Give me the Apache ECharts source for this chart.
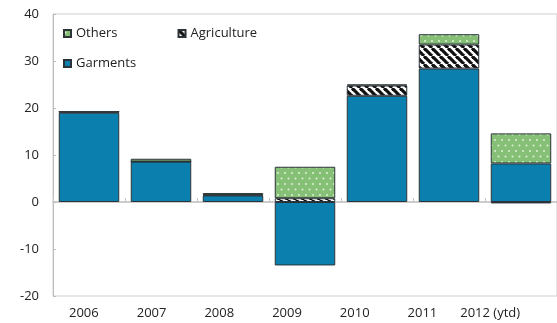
<!DOCTYPE html>
<html>
<head>
<meta charset="utf-8">
<script src="https://cdn.jsdelivr.net/npm/echarts@6/dist/echarts.min.js"></script>
<style>
  html, body { margin: 0; padding: 0; background: #fff; }
  #chart { width: 557px; height: 323px; }
</style>
</head>
<body>
<div id="chart"></div>
<script>
// Contributions by sector, percentage points
const years = ['2006', '2007', '2008', '2009', '2010', '2011', '2012 (ytd)'];
const garments = [19.0, 8.6, 1.4, -13.5, 22.6, 28.4, 8.2];
const agriculture = [0.2, 0.0, 0.1, 0.8, 2.2, 5.1, -0.3];
const others = [0.0, 0.6, 0.4, 6.7, 0.2, 2.2, 6.4];
const yTicks = { min: -20, max: 40, interval: 10 };

// Diagonal black/white hatch for the agriculture series
function stripeTile() {
  const s = 8;
  const c = document.createElement('canvas');
  c.width = s; c.height = s;
  const g = c.getContext('2d');
  g.fillStyle = '#ffffff';
  g.fillRect(0, 0, s, s);
  g.strokeStyle = '#111111';
  g.lineWidth = 3.2;
  for (const off of [-s, 0, s]) {
    g.beginPath();
    g.moveTo(off, 0);
    g.lineTo(off + s, s);
    g.stroke();
  }
  return c;
}

// Green fill with small light dots for the "others" series
function dotTile() {
  const w = 7, h = 11;
  const c = document.createElement('canvas');
  c.width = w; c.height = h;
  const g = c.getContext('2d');
  g.fillStyle = '#86bf76';
  g.fillRect(0, 0, w, h);
  g.fillStyle = '#dff0d8';
  [[1.5, 2.5], [5, 8]].forEach(([x, y]) => {
    g.beginPath();
    g.arc(x, y, 1, 0, Math.PI * 2);
    g.fill();
  });
  return c;
}

const font = '"Open Sans", "DejaVu Sans", sans-serif';
const border = { borderColor: '#2b3338', borderWidth: 1 };
const legendText = { fontFamily: font, fontSize: 13, color: '#222' };

const chart = echarts.init(document.getElementById('chart'), null, { renderer: 'canvas' });
chart.setOption({
  animation: false,
  grid: [
    { left: 53, right: -2, top: 14, bottom: 27, show: true, borderColor: '#cfcfcf', borderWidth: 1, backgroundColor: 'transparent' },
    { left: 50, width: 474, top: 14, bottom: 27, show: false }
  ],
  legend: [
    {
      data: ['Others', 'Agriculture'], icon: 'rect',
      left: 58, top: 22, itemWidth: 7, itemHeight: 7, itemGap: 60,
      textStyle: legendText
    },
    {
      data: ['Garments'], icon: 'rect',
      left: 58, top: 52, itemWidth: 7, itemHeight: 7,
      textStyle: legendText
    }
  ],
  xAxis: [
    {
      type: 'category', data: years, gridIndex: 0,
      axisLine: { onZero: true, lineStyle: { color: '#bdbdbd', width: 1.5 } },
      axisTick: { show: true, inside: true, length: 4, lineStyle: { color: '#c8c8c8' } },
      axisLabel: { show: false }
    },
    {
      type: 'category', data: years, gridIndex: 1,
      axisLine: { show: false }, axisTick: { show: false },
      axisLabel: { interval: 0, margin: 11, fontFamily: font, fontSize: 13, color: '#222' }
    }
  ],
  yAxis: [
    {
      type: 'value', gridIndex: 0, min: yTicks.min, max: yTicks.max, interval: yTicks.interval,
      axisLine: { show: true, lineStyle: { color: '#bdbdbd' } },
      axisTick: { show: true, inside: true, length: 3, lineStyle: { color: '#bdbdbd' } },
      splitLine: { show: false },
      axisLabel: { margin: 14, fontFamily: font, fontSize: 13, color: '#222' }
    },
    {
      type: 'value', gridIndex: 1, min: yTicks.min, max: yTicks.max,
      show: false
    }
  ],
  series: [
    {
      name: 'Garments', type: 'bar', stack: 'total', data: garments,
      xAxisIndex: 0, yAxisIndex: 0, barCategoryGap: '16%',
      itemStyle: Object.assign({ color: '#0b7fae' }, border)
    },
    {
      name: 'Agriculture', type: 'bar', stack: 'total', data: agriculture,
      xAxisIndex: 0, yAxisIndex: 0,
      itemStyle: Object.assign({ color: { image: stripeTile(), repeat: 'repeat' } }, border)
    },
    {
      name: 'Others', type: 'bar', stack: 'total', data: others,
      xAxisIndex: 0, yAxisIndex: 0,
      itemStyle: Object.assign({ color: { image: dotTile(), repeat: 'repeat' } }, border)
    }
  ]
});
</script>
</body>
</html>
